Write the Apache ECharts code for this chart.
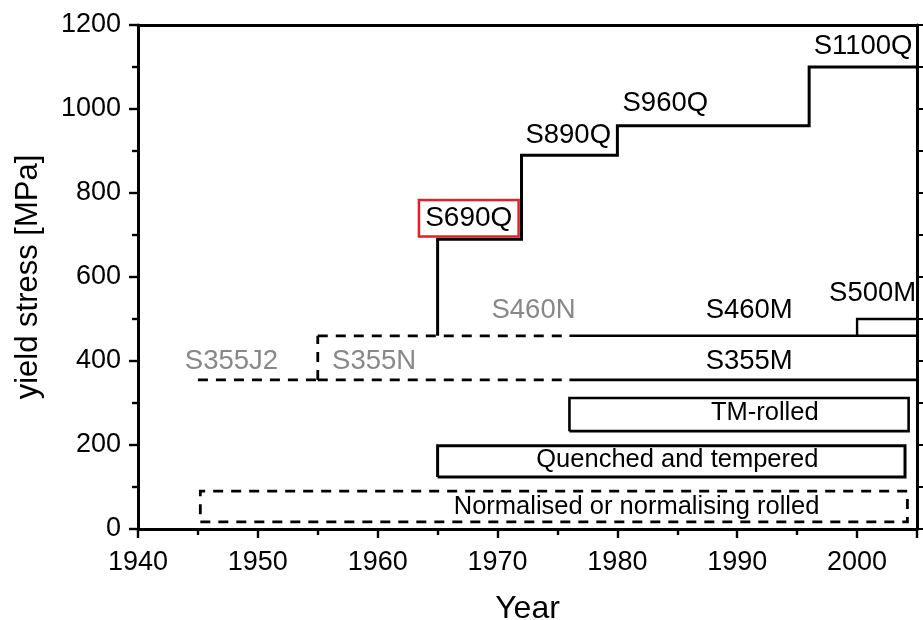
<!DOCTYPE html>
<html>
<head>
<meta charset="utf-8">
<script src="https://cdn.jsdelivr.net/npm/echarts@6/dist/echarts.min.js"></script>
<style>
html,body{margin:0;padding:0;background:#fff;}
#chart{width:923px;height:620px;}
</style>
</head>
<body>
<div id="chart"></div>
<script>
// ---- data ----
const xTicks = [1940, 1950, 1960, 1970, 1980, 1990, 2000];
const yTicks = [0, 200, 400, 600, 800, 1000, 1200];

// Quenched & tempered grades (step line)
const qYears  = [1965, 1965, 1972, 1972, 1980, 1980, 1996, 1996, 2005];
const qStress = [460, 690, 690, 890, 890, 960, 960, 1100, 1100];

// Normalised grades (dashed)
const j2Years   = [1945, 1955];
const j2Stress  = [355, 355];
const nEdgeYears  = [1955, 1955];
const nEdgeStress = [355, 460];
const nTopYears   = [1955, 1976];
const nTopStress  = [460, 460];
const nBotYears   = [1955, 1976];
const nBotStress  = [355, 355];

// Thermomechanical grades (solid)
const m460Years  = [1976, 2005];
const m460Stress = [460, 460];
const m355Years  = [1976, 2005];
const m355Stress = [355, 355];
const m500Years  = [2000, 2000, 2005];
const m500Stress = [460, 500, 500];

// Process boxes: [startYear, endYear, lowStress, highStress]
const tmBox   = [1976, 2004.3, 233, 312];
const qtBox   = [1965, 2004.0, 124, 198];
const normBox = [1945.2, 2004.2, 17, 90];

// Text labels
const labelNames  = ['S355J2', 'S355N', 'S460N', 'S460M', 'S355M', 'S500M',
                     'TM-rolled', 'Quenched and tempered', 'Normalised or normalising rolled',
                     'S890Q', 'S960Q', 'S1100Q'];
const labelYears  = [1947.8, 1959.7, 1973.0, 1991.0, 1991.0, 2001.3,
                     1992.3, 1985.0, 1981.6,
                     1975.9, 1984.0, 2000.5];
const labelStress = [398, 398, 521, 521, 398, 562,
                     276, 164, 52,
                     938, 1014, 1148];
const labelGray   = [true, true, true, false, false, false,
                     false, false, false,
                     false, false, false];
const highlightName = 'S690Q';
const highlightYear = 1967.6;
const highlightStress = 740;

// ---- helpers ----
function pts(xs, ys) { return xs.map((x, i) => [x, ys[i]]); }
function boxPts(b) {
  return [[b[0], b[2]], [b[1], b[2]], [b[1], b[3]], [b[0], b[3]], [b[0], b[2]]];
}
const BLACK = '#000';
const GRAY = '#888';
const DASH = [10, 8];
function lineSeries(data, dashed, width) {
  return {
    type: 'line', data: data, symbol: 'none', silent: true, animation: false,
    lineStyle: { color: BLACK, width: width || 2.6, type: dashed ? DASH : 'solid', cap: 'butt', join: 'miter' },
    z: 3
  };
}
function isGrade(name) { return /^S\d/.test(name); }

const chart = echarts.init(document.getElementById('chart'), null, { renderer: 'canvas' });
const FONT = '"Liberation Sans", Arial, Helvetica, sans-serif';

const series = [
  lineSeries(pts(qYears, qStress), false, 3),
  lineSeries(pts(j2Years, j2Stress), true, 2.8),
  lineSeries(pts(nEdgeYears, nEdgeStress), true, 2.8),
  lineSeries(pts(nTopYears, nTopStress), true, 2.8),
  lineSeries(pts(nBotYears, nBotStress), true, 2.8),
  lineSeries(pts(m460Years, m460Stress), false, 2.6),
  lineSeries(pts(m355Years, m355Stress), false, 2.6),
  lineSeries(pts(m500Years, m500Stress), false, 2.4),
  lineSeries(boxPts(tmBox), false, 2.6),
  lineSeries(boxPts(qtBox), false, 3),
  lineSeries(boxPts(normBox), true, 2.8),
  {
    type: 'scatter', silent: true, animation: false,
    symbolSize: 1, itemStyle: { color: 'transparent', opacity: 1 },
    data: labelNames.map((n, i) => ({
      value: [labelYears[i], labelStress[i]],
      label: {
        show: true, position: 'inside', formatter: n,
        color: labelGray[i] ? GRAY : BLACK,
        fontSize: isGrade(n) ? 27.5 : 25.5, fontFamily: FONT
      }
    })),
    z: 5
  },
  {
    type: 'scatter', silent: true, animation: false,
    symbolSize: 1, itemStyle: { color: 'transparent', opacity: 1 },
    data: [{
      value: [highlightYear, highlightStress],
      label: {
        show: true, position: 'inside', formatter: highlightName,
        color: BLACK, fontSize: 28, fontFamily: FONT,
        borderColor: '#e0202a', borderWidth: 2.5, padding: [4, 5, 2, 5],
        backgroundColor: '#fff'
      }
    }],
    z: 6
  }
];

chart.setOption({
  animation: false,
  backgroundColor: '#fff',
  grid: { left: 138, right: 6, top: 25, bottom: 91, containLabel: false, outerBoundsMode: 'none' },
  xAxis: [{
    type: 'value', min: 1940, max: 2005, interval: 10,
    position: 'bottom',
    name: 'Year', nameLocation: 'middle', nameGap: 64,
    nameTextStyle: { fontSize: 32, color: BLACK, fontFamily: FONT },
    axisLine: { show: true, onZero: false, lineStyle: { color: BLACK, width: 3 } },
    axisTick: { show: true, inside: false, length: 9, lineStyle: { color: BLACK, width: 2.4 } },
    minorTick: { show: true, splitNumber: 2, length: 6, lineStyle: { color: BLACK, width: 2.4 } },
    axisLabel: {
      margin: 20, fontSize: 27, color: BLACK, fontFamily: FONT, showMaxLabel: false,
      formatter: v => (xTicks.indexOf(v) >= 0 ? String(v) : '')
    },
    splitLine: { show: false }
  }, {
    type: 'value', min: 1940, max: 2005, interval: 10,
    position: 'top',
    axisLine: { show: true, onZero: false, lineStyle: { color: BLACK, width: 3 } },
    axisTick: { show: false }, axisLabel: { show: false }, splitLine: { show: false }
  }],
  yAxis: [{
    type: 'value', min: 0, max: 1200, interval: 200,
    position: 'left',
    name: 'yield stress [MPa]', nameLocation: 'middle', nameGap: 94, nameRotate: 90,
    nameTextStyle: { fontSize: 31, color: BLACK, fontFamily: FONT },
    axisLine: { show: true, onZero: false, lineStyle: { color: BLACK, width: 3 } },
    axisTick: { show: true, inside: false, length: 9, lineStyle: { color: BLACK, width: 2.4 } },
    minorTick: { show: true, splitNumber: 2, length: 6, lineStyle: { color: BLACK, width: 2.4 } },
    axisLabel: {
      margin: 17, fontSize: 27, color: BLACK, fontFamily: FONT,
      formatter: v => (yTicks.indexOf(v) >= 0 ? String(v) : '')
    },
    splitLine: { show: false }
  }, {
    type: 'value', min: 0, max: 1200, interval: 200,
    position: 'right',
    axisLine: { show: true, onZero: false, lineStyle: { color: BLACK, width: 3 } },
    axisTick: { show: true, inside: false, length: 6, lineStyle: { color: BLACK, width: 2 } },
    minorTick: { show: true, splitNumber: 2, length: 6, lineStyle: { color: BLACK, width: 2 } },
    axisLabel: { show: false }, splitLine: { show: false }
  }],
  series: series
});
</script>
</body>
</html>
